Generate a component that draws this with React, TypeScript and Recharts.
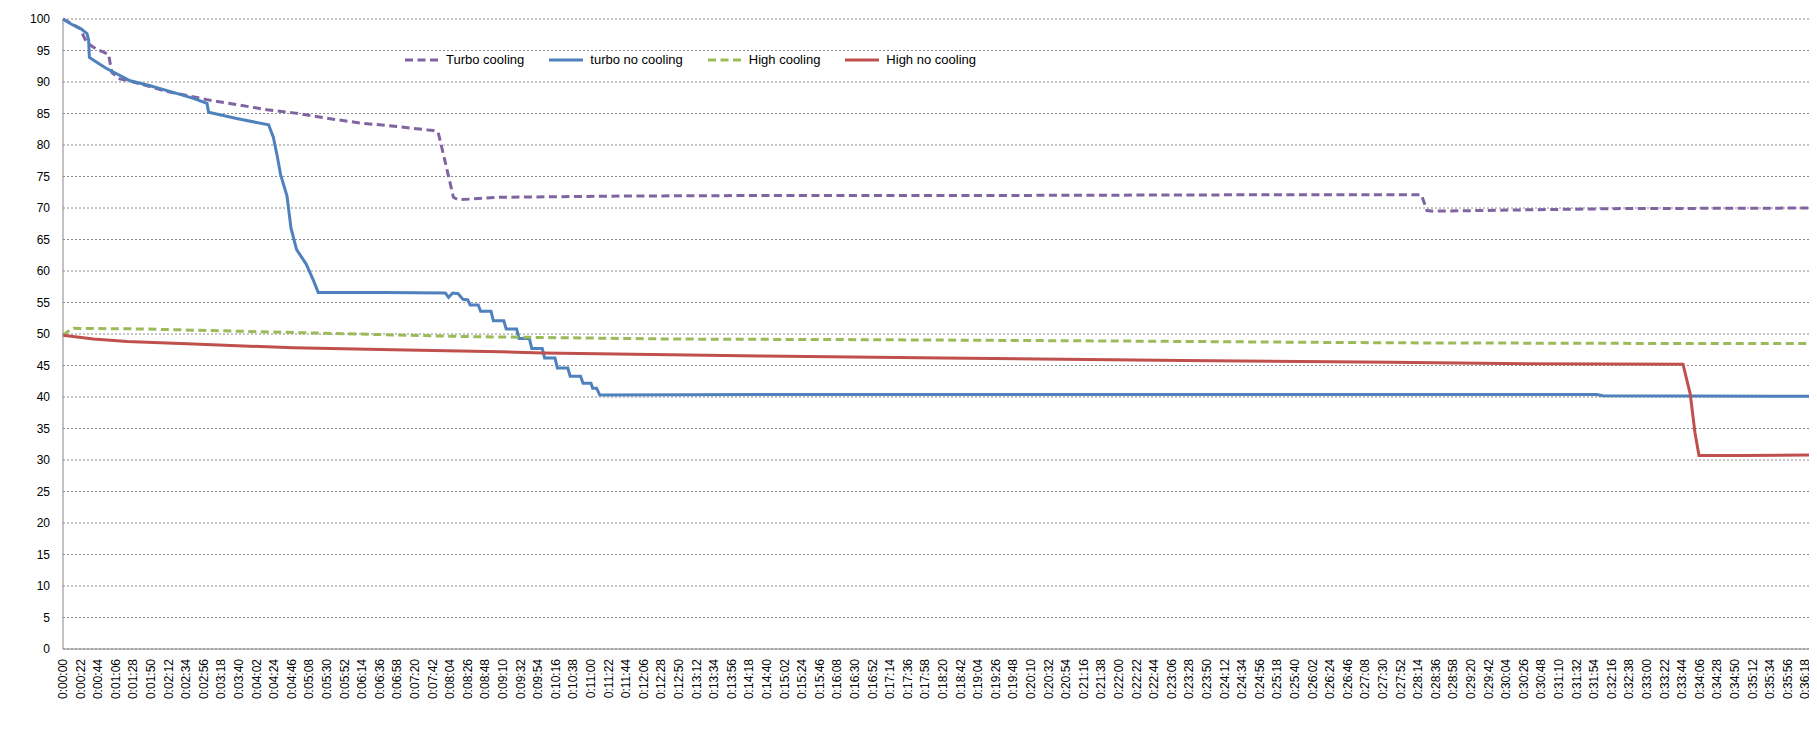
import React from "react";
import { LineChart, Line, XAxis, YAxis, CartesianGrid, Legend } from "recharts";

// [seconds, value] pairs
const turboCooling: [number, number][] = [
  [0, 100], [10, 99.3], [21, 98.5], [30, 96.2], [42, 95.2], [57, 94.4], [61, 91.5],
  [71, 90.5], [88, 90.0], [130, 88.5], [180, 87.2], [255, 85.6], [288, 85.1],
  [338, 84.1], [371, 83.5], [420, 82.9], [455, 82.4], [463, 82.3], [469, 82.0],
  [480, 76.1], [488, 71.7], [494, 71.3], [546, 71.7], [700, 71.9], [900, 72.0],
  [1200, 72.0], [1500, 72.1], [1698, 72.1], [1705, 69.6], [1713, 69.5],
  [1938, 69.9], [2200, 70.0],
];

const turboNoCooling: [number, number][] = [
  [0, 100], [10, 99.2], [23, 98.4], [30, 97.7], [32, 96.7], [33, 93.9], [46, 92.8],
  [55, 92.1], [84, 90.2], [109, 89.4], [142, 88.2], [163, 87.4], [180, 86.6],
  [182, 85.2], [217, 84.2], [257, 83.2], [263, 81.2], [268, 78.1], [272, 75.3],
  [280, 71.9], [285, 66.8], [292, 63.4], [304, 61.1], [313, 58.5], [319, 56.6],
  [400, 56.6], [478, 56.5], [482, 55.8], [487, 56.5], [494, 56.4], [500, 55.5],
  [506, 55.4], [509, 54.6], [519, 54.6], [522, 53.6], [535, 53.6], [538, 52.1],
  [551, 52.1], [554, 50.8], [567, 50.8], [570, 49.3], [583, 49.3], [586, 47.7],
  [599, 47.7], [602, 46.2], [615, 46.2], [618, 44.6], [631, 44.6], [634, 43.3],
  [647, 43.3], [650, 42.2], [660, 42.2], [662, 41.4], [667, 41.4], [671, 40.3],
  [900, 40.4], [1917, 40.4], [1925, 40.2], [2200, 40.1],
];

const highCooling: [number, number][] = [
  [0, 49.8], [8, 50.6], [13, 50.9], [100, 50.8], [200, 50.5], [300, 50.2],
  [500, 49.6], [760, 49.2], [1000, 49.1], [1300, 48.9], [1660, 48.6],
  [2000, 48.5], [2200, 48.5],
];

const highNoCooling: [number, number][] = [
  [0, 49.8], [38, 49.2], [80, 48.8], [163, 48.4], [288, 47.8], [413, 47.5],
  [546, 47.2], [600, 47.0], [872, 46.5], [1100, 46.2], [1400, 45.8],
  [1659, 45.5], [1800, 45.3], [2025, 45.2], [2034, 40.5], [2040, 34.3],
  [2045, 30.7], [2100, 30.7], [2200, 30.8],
];

const seriesNames = ["Turbo cooling", "turbo no cooling", "High cooling", "High no cooling"];
const seriesColors = ["#8064A2", "#4F81BD", "#9BBB59", "#C0504D"];
const seriesDashed = [true, false, true, false];
const seriesPoints = [turboCooling, turboNoCooling, highCooling, highNoCooling];

const yTicks = [0, 5, 10, 15, 20, 25, 30, 35, 40, 45, 50, 55, 60, 65, 70, 75, 80, 85, 90, 95, 100];
const xTicks = Array.from({ length: 100 }, (_, i) => i * 22);

const FONT = '"Liberation Sans", Arial, sans-serif';
const DASH = "8 4.5";

const pad = (n: number) => String(n).padStart(2, "0");
const fmtTime = (s: number) =>
  `${Math.floor(s / 3600)}:${pad(Math.floor((s % 3600) / 60))}:${pad(s % 60)}`;

const XTick = ({ x, y, payload }: any) => (
  <text
    x={x}
    y={y}
    transform={`rotate(-90 ${x} ${y})`}
    textAnchor="end"
    dominantBaseline="central"
    fontSize={12}
    fontFamily={FONT}
    fill="#000"
  >
    {fmtTime(payload.value)}
  </text>
);

const LegendBox = () => (
  <div style={{ display: "flex", alignItems: "center", fontFamily: FONT, fontSize: 13, lineHeight: "16px", color: "#000" }}>
    {seriesNames.map((name, i) => (
      <div key={name} style={{ display: "flex", alignItems: "center", marginRight: 25 }}>
        <svg width={34} height={6}>
          <line
            x1={0}
            y1={3}
            x2={34}
            y2={3}
            stroke={seriesColors[i]}
            strokeWidth={3}
            strokeDasharray={seriesDashed[i] ? DASH : undefined}
          />
        </svg>
        <span style={{ marginLeft: 7, whiteSpace: "nowrap" }}>{name}</span>
      </div>
    ))}
  </div>
);

export default function App() {
  return (
    <div style={{ margin: -8, width: 1817, height: 733, overflow: "hidden", position: "relative", background: "#fff" }}>
      <LineChart width={1823} height={733} margin={{ top: 19, right: 0, bottom: 0, left: 0 }}>
        <CartesianGrid vertical={false} stroke="#8a8a8a" strokeDasharray="2 2" />
        <XAxis
          type="number"
          dataKey="t"
          domain={[0, 2200]}
          ticks={xTicks}
          interval={0}
          height={68}
          tickLine={false}
          tickMargin={4}
          axisLine={{ stroke: "#868686" }}
          tick={<XTick />}
        />
        <YAxis
          type="number"
          domain={[0, 100]}
          ticks={yTicks}
          interval={0}
          width={63}
          tickLine={false}
          tickMargin={7}
          axisLine={{ stroke: "#868686" }}
          tick={{ fontSize: 12, fontFamily: FONT, fill: "#000" }}
        />
        <Legend
          content={<LegendBox />}
          wrapperStyle={{ position: "absolute", left: 405, top: 52, width: "auto" }}
        />
        {seriesPoints.map((pts, i) => (
          <Line
            key={seriesNames[i]}
            name={seriesNames[i]}
            data={pts.map(([t, v]) => ({ t, v }))}
            dataKey="v"
            type="linear"
            stroke={seriesColors[i]}
            strokeWidth={3}
            strokeDasharray={seriesDashed[i] ? DASH : undefined}
            dot={false}
            activeDot={false}
            isAnimationActive={false}
          />
        ))}
      </LineChart>
      <div
        style={{
          position: "absolute",
          left: 0,
          top: 729,
          width: 1817,
          height: 4,
          borderTop: "1px solid #d4d4d4",
          backgroundImage: "repeating-linear-gradient(to right, transparent 0 25px, #d4d4d4 25px 26px, transparent 26px 54px)",
        }}
      />
    </div>
  );
}
